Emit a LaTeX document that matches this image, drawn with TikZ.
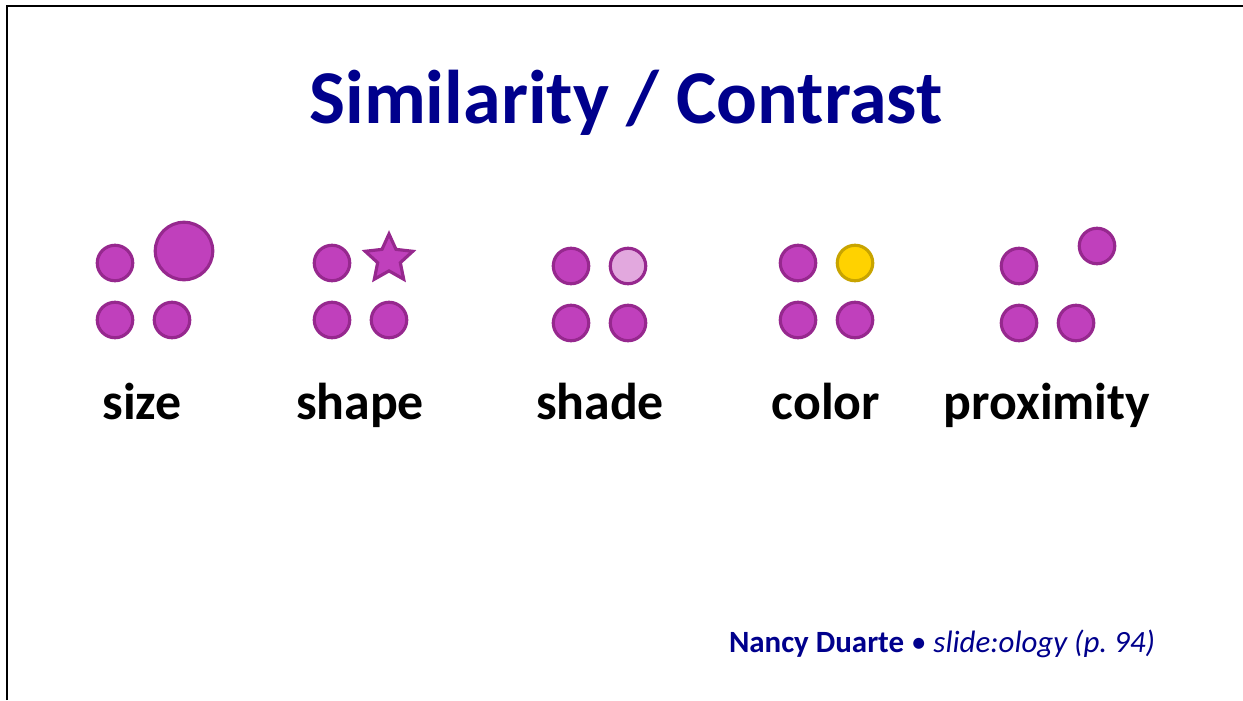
\documentclass[tikz,border=0pt]{standalone}
\usepackage{fontspec}
\setmainfont{Carlito}
\usetikzlibrary{shapes.geometric}
\definecolor{SlideNavy}{RGB}{0,0,140}
\definecolor{DotFill}{RGB}{192,64,188}
\definecolor{DotLine}{RGB}{150,40,142}
\definecolor{DotLight}{RGB}{226,168,222}
\definecolor{DotGold}{RGB}{255,210,0}
\definecolor{GoldLine}{RGB}{200,164,0}

\begin{document}
\begin{tikzpicture}[x=0.02cm,y=-0.02cm,
    every node/.style={inner sep=0pt, outer sep=0pt},
    pdot/.style={circle, draw=DotLine, fill=DotFill, line width=1.8pt, minimum size=0.71cm},
    lbl/.style={anchor=base, font=\fontsize{29.5}{34}\selectfont\bfseries}]
  \useasboundingbox (0,0) rectangle (1243,700);
  % slide frame
  \coordinate (fb) at (7,700);
  \coordinate (fc) at (7,6);
  \coordinate (fr) at (1243,6);
  \draw[line width=1.6pt] (fb) -- (fc) -- (fr);

  \node[anchor=base, text=SlideNavy, font=\fontsize{43.3}{48}\selectfont\bfseries]
    (title) at (626,123) {Similarity / Contrast};

  % size
  \node[pdot] (sz1) at (115,263) {};
  \node[pdot, minimum size=1.15cm] (sz2) at (184,251) {};
  \node[pdot] (sz3) at (115,320) {};
  \node[pdot] (sz4) at (172,320) {};
  \node[lbl] (lsize) at (142,419) {size};

  % shape
  \node[pdot] (sh1) at (332,263) {};
  \node[star, star points=5, star point ratio=2.1, draw=DotLine, fill=DotFill,
        line width=1.8pt, minimum size=1.0cm] (sh2) at (389,259) {};
  \node[pdot] (sh3) at (332,320) {};
  \node[pdot] (sh4) at (389,320) {};
  \node[lbl] (lshape) at (360,419) {shape};

  % shade
  \node[pdot] (sd1) at (571,266) {};
  \node[pdot, fill=DotLight] (sd2) at (628,266) {};
  \node[pdot] (sd3) at (571,323) {};
  \node[pdot] (sd4) at (628,323) {};
  \node[lbl] (lshade) at (600,419) {shade};

  % color
  \node[pdot] (cl1) at (798,263) {};
  \node[pdot, fill=DotGold, draw=GoldLine] (cl2) at (855,263) {};
  \node[pdot] (cl3) at (798,320) {};
  \node[pdot] (cl4) at (855,320) {};
  \node[lbl] (lcolor) at (826,419) {color};

  % proximity
  \node[pdot] (px1) at (1019,266) {};
  \node[pdot] (px2) at (1097,246) {};
  \node[pdot] (px3) at (1019,323) {};
  \node[pdot] (px4) at (1076,323) {};
  \node[lbl] (lprox) at (1047,419) {proximity};

  \node[anchor=base east, text=SlideNavy, font=\fontsize{17.6}{21}\selectfont]
    (credit) at (1155,652) {\textbf{Nancy Duarte} • \textit{slide:ology (p.~94)}};
\end{tikzpicture}
\end{document}
